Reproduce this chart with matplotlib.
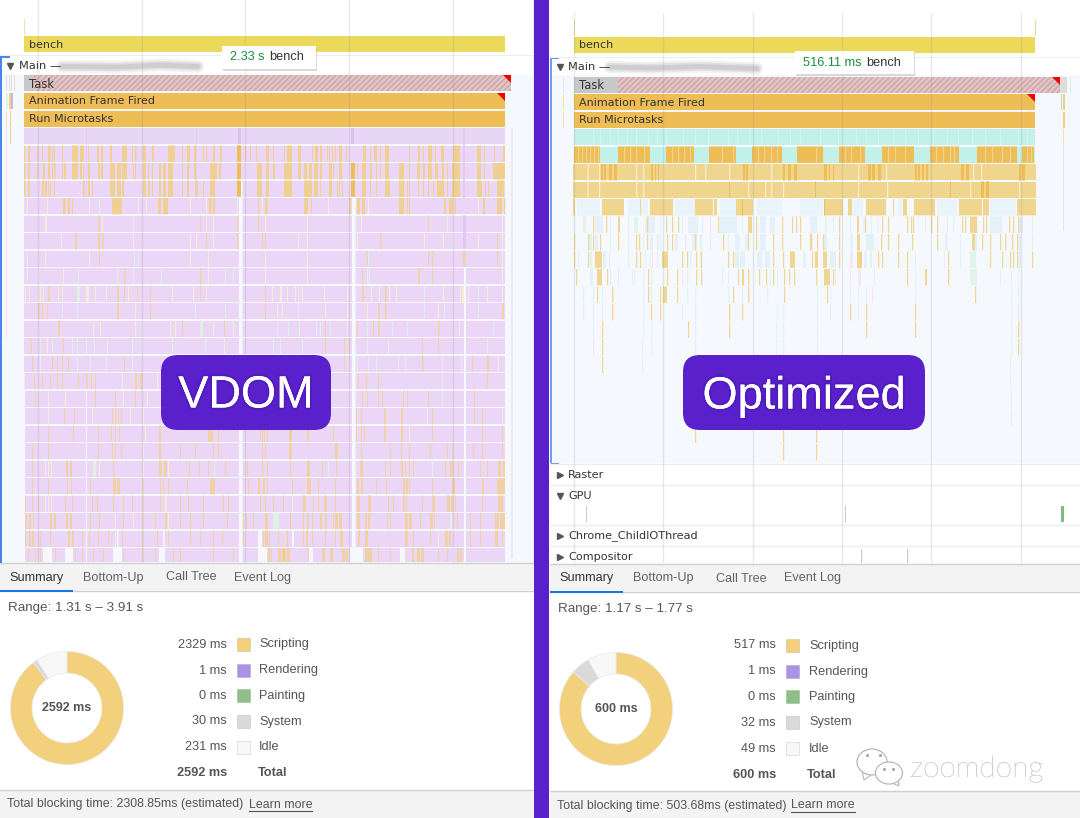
import matplotlib
matplotlib.use("Agg")
import matplotlib.pyplot as plt
from matplotlib.patches import FancyBboxPatch, Rectangle, Ellipse, Polygon
import matplotlib.patheffects as pe

plt.rcParams['font.family'] = ['Liberation Sans', 'DejaVu Sans']
plt.rcParams['hatch.linewidth'] = 1.0

# ---------- summary data ----------
CATEGORIES = ['Scripting', 'Rendering', 'Painting', 'System', 'Idle']
LEFT_VALUES = [2329, 1, 0, 30, 231]
RIGHT_VALUES = [517, 1, 0, 32, 49]
LEFT_TOTAL = 2592
RIGHT_TOTAL = 600
CAT_COLORS = ['#f2d07c', '#ab92e6', '#8cc084', '#dadada', '#f8f8f8']
TABS = ['Summary', 'Bottom-Up', 'Call Tree', 'Event Log']
TAB_X = [9, 83, 166, 234]

# ---------- flame chart data: (start, duration) or start only ----------
LEFT_ORANGE = [
 [],
 [(24,1.2),(28,2),(37,1),(42,1),(48,2.5),(52,1),(54,1),(62,1),(72,6),(80,4),(88,1),(97,2),(101,2),(110,2),(122,5),(132,1),(135,1.5),(143,3),(152,1),(153,1),(168,7),(182,1),(187,3),(194,2),(203,1),(206,1),(213,2),(220,2),(245,1),(250,1),(256,1),(266,3),(273,1),(284,1),(287,5),(298,3),(312,1),(315,3),(320,2),(327,1),(329,1),(332,1),(335,1),(339,3),(346,1),(363,3),(370,1),(374,3),(380,1),(385,4),(409,1),(418,2),(423,1),(428,4),(435,1),(441,3),(453,7),(477,4),(484,1),(494,1),(503,2)],
 [(24,1.5),(28,2),(37,1),(43,2),(48,2),(52,1),(54,1.5),(62,1),(64,2),(72,6),(80,2),(83,1),(88,2),(98,2),(101,2),(110,5),(117,4),(122,5),(133,1),(135,1),(143,3),(148,1),(152,1),(159,2),(163,3),(168,5),(182,1),(187,2),(194,2),(210,7),(219,2),(257,5),(266,3),(273,2),(284,8),(298,3),(304,3),(309,3),(314,4),(320,2),(329,3),(333,1),(339,3),(357,1),(362,4),(370,2),(376,1),(380,1),(385,4),(399,5),(409,1),(417,3),(423,2),(428,4),(435,3),(442,2),(447,1),(452,8),(477,4),(484,1),(493,12)],
 [(24,1.5),(28,2),(42,2),(45,2),(48,1),(50,1),(54,1),(83,2),(88,2),(92,1),(110,5),(117,4),(122,1),(123,1),(143,3),(148,2),(152,1),(159,2),(163,3),(168,5),(182,1),(187,2),(195,3),(203,1),(210,5),(257,5),(266,3),(284,8),(304,8),(314,4),(320,1),(329,3),(337,1),(339,1),(342,1),(362,4),(370,1),(376,1),(385,5),(399,5),(407,1),(409,1),(418,1),(423,1),(428,1),(433,1),(437,7),(447,1),(452,8),(477,5),(485,1),(488,1),(497,7)],
 [(63,2.5),(68,2),(72,1),(112,10),(158,3),(163,5),(209,2.5),(213,2),(258,1),(265,2.5),(304,4),(311,1),(349,2),(357,3),(362,3),(399,5),(407,1),(409,1),(444,2),(449,4),(455,1),(483,2),(497,5),(504,1)],
 [(98,1.5),(237,1.5),(258,1),(428,1),(200,1)],
 [(75,2),(98,2),(102,1.5),(206,1),(237,1.5),(262,1),(265,1),(380,1.5),(497,1)],
 [(99,1),(367,1),(428,1),(432,1),(463,2.5),(497,1)],
 [(124,1.5),(200,1.5),(362,1),(418,2),(432,1)],
 [(48,1.5),(117,2),(124,1),(137,1),(150,1),(200,1),(265,1),(362,2),(385,1.5)],
 [(38,1.5),(42,1),(47,1),(117,2),(150,1),(265,1),(378,1.5),(385,1.5),(502,2)],
 [(58,2),(182,1),(224,1),(325,1),(357,1),(373,1),(378,1.5),(438,1.5)],
 [(31,1),(63,1),(325,1),(344,1),(349,1),(422,1),(438,1)],
 [(32,1),(52,1),(57,1),(62,1),(68,1),(124,1),(344,1),(422,1.5),(472,1),(487,2)],
 [(34,1),(42,1),(50,1),(57,1),(62,1),(78,1),(86,1.5),(91,1),(95,1),(135,2),(140,2),(358,1),(366,1),(378,1),(487,1)],
 [(35,1),(95,1),(115,1),(135,1),(362,1),(367,1),(378,1),(382,1),(403,1),(407,1),(428,1),(474,1)],
 [(64,1),(74,1),(112,1),(115,1),(118,1),(121,1),(356,1),(361,1),(384,2),(401,2),(432,1),(474,1),(482,1)],
 [(48,1),(73,1),(98,1),(111,1),(115,1),(119,1),(159,2),(208,5),(218,1),(262,1),(267,1),(290,1),(260,1),(264,1),(289,3),(307,2),(333,1),(356,1),(361,1),(364,1),(384,2),(401,2),(432,1),(482,1),(502,1)],
 [(32,1),(48,1),(98,1),(112,1),(115,1),(121,1),(159,2),(180,1),(195,1),(213,1),(218,1),(262,1),(265,1),(289,3),(335,3),(361,1),(390,1),(401,1),(409,1),(430,1),(447,1),(452,1),(473,1),(482,1),(502,1)],
 [(32,1),(66,2),(70,2),(113,1),(159,3),(164,3),(189,1),(199,1),(208,1),(225,1),(247,1),(262,1),(267,1),(290,1),(307,3),(322,1),(336,1),(360,3),(385,1),(390,1),(401,2),(405,1),(409,1),(413,1),(445,1),(450,3),(458,1),(480,1),(487,1),(498,3),(503,2)],
 [(32,1),(48,1),(67,1),(71,1),(90,1),(113,3),(117,3),(143,1),(160,1),(163,1),(168,1),(187,1),(210,5),(248,1),(267,1),(292,1),(258,2),(263,2),(307,4),(318,1),(335,1),(357,2),(361,2),(376,1),(386,1),(403,2),(406,2),(409,1),(432,1),(452,3),(482,2),(497,8)],
 [(25,1),(32,1),(38,1),(65,1),(72,1),(92,1),(97,1),(113,1),(123,1),(132,1),(143,1),(160,1),(180,1),(188,1),(203,1),(223,1),(228,1),(260,1),(265,1),(273,1),(283,1),(303,3),(313,1),(318,1),(324,3),(335,1),(357,3),(368,3),(388,1),(393,1),(403,2),(406,1),(422,1),(432,3),(447,3),(451,2),(455,1),(482,1),(498,5)],
 [(25,2),(29,2),(33,1),(50,2),(54,2),(66,2),(70,2),(90,1),(99,1),(123,1),(143,1),(155,1),(165,2),(180,1),(190,1),(203,1),(227,1),(243,1),(246,1),(290,1),(303,1),(308,1),(333,1),(253,1),(265,3),(290,1),(307,1),(312,1),(320,2),(325,2),(335,3),(339,3),(357,3),(365,2),(368,2),(387,1),(390,1),(405,3),(409,3),(420,1),(430,3),(434,1),(457,1),(470,1),(480,1),(495,4),(500,5)],
 [(25,1),(29,2),(32,2),(40,1),(50,1),(68,2),(72,2),(82,1),(89,1),(98,1),(108,1),(122,1),(143,1),(157,1),(168,1),(190,1),(200,1),(213,1),(222,1),(243,1),(263,1),(287,1),(307,1),(265,3),(269,1),(278,1),(287,1),(303,1),(306,1),(312,1),(325,1),(335,1),(340,3),(358,2),(365,3),(405,3),(413,1),(430,1),(445,3),(449,2),(470,1),(480,1),(495,3),(502,1)],
 [(28,1),(35,1),(40,1),(55,1),(75,1),(82,1),(93,1),(103,1),(123,1),(143,1),(155,1),(173,1),(180,1),(213,1),(233,1),(283,3),(287,3),(308,1),(268,2),(271,1),(278,3),(282,3),(322,3),(330,3),(342,3),(346,2),(365,7),(378,1),(390,1),(412,2),(417,3),(421,3),(438,1),(447,1),(457,2),(460,2)],
]
LEFT_CREAM = [
 [],[],[],[],
 [(27,1),(47,1),(89,1),(138,1),(146,1),(190,1),(206,1),(262,1),(328,1),(355,1),(368,1),(478,1),(505,1)],
 [(45,2),(102,1),(206,1),(213,1),(265,1),(307,1),(361,1),(428,1),(502,1)],
 [(61,1),(133,1),(190,1),(196,1),(213,1),(242,1),(298,1),(307,1),(357,1),(424,1),(443,1),(478,1),(502,1)],
 [(45,1),(89,1),(190,1),(208,1),(265,1),(307,1),(502,1)],
 [(63,1),(208,1),(265,1),(307,1),(502,1)],
 [(25,1),(29,1),(38,1),(40,1),(43,1),(58,1),(62,1),(86,3),(95,1),(106,1),(128,1),(172,1),(193,1),(206,1),(272,1),(280,2),(287,1),(295,1),(302,1),(324,1),(347,1),(371,1),(379,1),(389,1),(396,1),(443,1),(460,1),(462,2),(468,1),(487,1),(502,1)],
 [(135,1),(277,1),(282,1),(325,1),(347,1),(367,1),(438,1)],
 [(93,1),(100,1),(135,1),(170,1),(175,1),(213,1),(233,1)],
 [(47,1),(224,1)],
 [(498,1)],
 [(24,1),(122,1),(135,1),(157,1)],
 [(48,1),(65,1),(123,1),(147,1)],
 [(92,1),(130,1),(143,1)],
 [(145,1),(409,1)],
 [(143,1)],
 [(45,1),(48,1),(51,1),(93,1),(99,1),(143,1),(168,1)],
 [(143,1)],
 [(45,1),(48,1),(51,1),(123,1),(165,2),(292,1),(455,1)],
 [(115,1),(133,1),(155,1),(168,1)],
 [(115,1),(168,1),(438,1)],
 [],
]
LEFT_MINT = [
 [],[],[],[],
 [(99,1),(237,1)],
 [(133,1),(242,1),(265,1),(447,1)],
 [(453,1)],
 [(27,1),(134,1),(138,1),(368,1)],
 [(27,1),(38,1),(78,1),(117,1),(133,1),(161,1),(225,1),(233,1),(367,1),(369,1)],
 [(77,3),(298,1),(424,1),(478,1)],
 [(62,1),(77,1),(195,1),(225,1),(298,1),(424,1),(444,1),(478,1)],
 [(142,1),(200,3),(277,1),(288,1),(299,1),(316,1),(320,1),(330,1),(347,1),(367,1),(392,1),(407,1),(459,1),(493,1)],
 [(40,1),(52,1),(72,1),(77,1),(86,1),(94,1),(107,1),(132,1),(142,1),(172,1),(205,1),(273,1),(280,1),(302,1),(367,1),(388,1),(487,1)],
 [(40,1),(77,1),(90,1),(106,1),(132,1),(357,1),(368,1),(376,1),(398,1),(405,1),(442,1),(461,1)],
 [(442,1)],
 [(442,1)],
 [(48,1),(427,1),(502,1)],
 [],
 [],
 [(93,3),(143,1),(214,1),(328,1),(432,1)],
 [],
 [],
 [(273,5),(275,4),(450,2)],
 [(108,1)],
 [],
]
LEFT_GAP_A = [(239,3.5)]              # row 3 onward
LEFT_GAP_B = [(352,3.5)]              # row 4 onward
LEFT_GAP_C = [(464,2)]                # row 8 onward
LEFT_GAP_D = [(86,1)]                 # row 15 onward
LEFT_GAP_23 = [(117,1.5),(163,1.5),(258,4),(292,2)]
LEFT_GAP_24 = [(43,9),(65,8),(113,9),(159,6),(258,9),(309,4),(350,13),(400,5),(453,1)]
LEFT_DARK = [(237,4,1),(237,4,2),(237,4,3),(351,4,2),(351,4,3)]  # start, duration, row

RIGHT_SEG_ROW1 = [(574,26),(618,32),(666,28),(709,27),(752,30),(797,26),(839,26),(882,32),(930,29),(977,40),(1022,12)]
RIGHT_SEG_TICKS = [578,582,586,590,594,598,624,630,636,644,672,678,684,690,722,733,758,764,771,777,816,845,851,860,888,895,905,936,943,950,954,985,992,1002,1010,1027,1031]
RIGHT_ROW0_TICKS = [593,600,610,618,627,636,648,657,666,683,695,708,728,737,749,761,778,790,800,820,838,856,866,878,893,905,918,933,947,958,972,985,1000,1018,1027]
RIGHT_R2_DARK = [(601,2),(604,2),(609,3),(614,3),(651,2),(655,1),(658,1),(743,2),(746,2),(783,2),(788,3),(794,3),(824,3),(829,1),(833,1),(868,3),(872,3),(878,3),(915,2),(918,2),(922,2),(926,2),(961,3),(966,3),(1019,2),(1022,3)]
RIGHT_R2_SEP = [587.5,599,636,643,695,705,729,771,858,886,973,981]
RIGHT_R3_DARK = [(981,3),(986,3),(815,1),(950,1),(1019,1),(729,1)]
RIGHT_R3_SEP = [587.5,599,636,643,748,765,771,783,858,887,970,1019]
RIGHT_R4_CHUNKS = [(602,22),(650,20),(695,18),(736,6),(743,10),(824,19),(848,4),(866,20),(903,4),(914,21),(959,23),(983,6),(1017,19),(573,2),(640,1),(670,3),(714,3),(877,1),(893,1)]
RIGHT_R4_BLUE = [(577,3),(580,7),(587,13),(628,20),(675,20),(720,16),(757,25),(800,10),(810,13),(853,10),(898,4),(937,20),(990,26)]
RIGHT_R4_DARK = [(742,1),(824,1)]

RIGHT_ORANGE = {
 5:[593,606,(618,2),647,666,672,678,718,(748,4),756,782,792,796,800,839,(857,2),865,882,888,907,911,913,931,937,962,965,(970,7),983,986,1009,1013,1018],
 6:[574,588,593,600,618,636,639,647,667,672,695,723,748,756,773,782,800,(810,2),817,823,839,(857,3),881,888,898,912,937,982,990,1000,1005,1012,1017,(972,3)],
 7:[574,588,(595,7),636,640,(662,6),682,687,696,701,728,733,773,783,(790,5),812,(815,3),(823,4),839,(857,5),878,882,898,907,948,990,1002,1010,1013,1017,1032],
 8:[576,(597,5),607,648,667,677,696,701,738,(742,2),748,759,766,773,784,789,794,816,(824,6),833,907,(925,2),948],
 9:[597,612,648,660,(663,4),677,733,748,784,827,975],
 10:[612,651,660,729,742,850,866,915],
 11:[602,688,729,866,915,1018],
 12:[602,1018],
 13:[602],
 14:[],15:[],16:[],
 17:[695,783,816],
 18:[783,816],
}
RIGHT_BLUE = {
 5:[574,(595,8),610,628,(645,10),660,682,(688,9),702,(720,17),(760,6),(770,5),(810,7),850,(863,2),877,(947,1),953,(990,12),(1018,5)],
 6:[(595,3),610,628,643,(650,3),660,(675,3),(692,5),710,728,(735,5),(760,6),(810,3),(824,3),(850,3),(868,3),(945,3),960,975,(1018,3)],
 7:[578,(603,3),628,645,650,657,690,(740,5),(757,5),(765,5),(803,3),(830,6),(850,3),(864,3),(915,1),(944,1),960,(1018,3)],
 8:[(590,3),610,634,643,651,687,722,(728,1),(770,1),(777,1),(835,1),(874,1),915,971,(1000,1),(1011,1),(1018,1)],
 9:[593,602,643,687,695,728,742,767,817,830,850,858,915,1011,1018],
 10:[583,593,602,643,682,695,777,783,817,830,858,1011,1018],
 11:[593,643,651,695,776,783,817,1011],
 12:[642,651,695,776,783,817,1011],
 13:[642,1010],
 14:[1010],15:[],16:[],17:[],18:[],
}
RIGHT_MINT = {
 5:[(583,3),(634,4),(697,1),742,(825,2),833,871,925,(975,2),(1032,1)],
 6:[(589,3),(610,1),(657,2),(700,2),(745,3),(866,2),(871,3),(975,2),(1032,1)],
 7:[(590,2),(700,2),(735,4),(830,3),(870,2),(970,6)],
 8:[(632,1),(970,5),(975,2)],
 9:[583,651,(866,1)],
 10:[],11:[],12:[],13:[],14:[],15:[],16:[],17:[],18:[],
}
RIGHT_PINK = {5:[710],6:[685],7:[652,(609,1),(850,2),(858,4)],8:[682,(850,1),(858,3),(618,1)],9:[872],10:[],11:[],12:[593],13:[],14:[],15:[1011],16:[1011],17:[],18:[]}

GPU_STRIPES = [(586,1),(845,1),(1061,3)]
COMP_STRIPES = [861,907]
LEFT_GRID = [38,142,245,349,453]
RIGHT_GRID = [574,663,753,842,931,1021]

# ---------- canvas ----------
fig = plt.figure(figsize=(10.8, 8.18), dpi=100, facecolor='white')
ax = fig.add_axes([0, 0, 1, 1])
ax.set_xlim(0, 1080); ax.set_ylim(818, 0); ax.axis('off')

BG = '#f5f9fe'
LILAC = '#ecd6f7'
ORANGE = '#f1cf80'
STRONG = '#eebd55'
CREAM = '#f6ecd8'
MINT = '#dff0e6'
BLUE = '#e4f0fa'
TEAL = '#c2f1ea'
LORANGE = '#f0d58f'

def rect(x, y, w, h, color, z=2, **kw):
    ax.add_patch(Rectangle((x, y), w, h, facecolor=color, edgecolor='none', zorder=z, **kw))

def stripes(items, y, h, color, z=3, alpha=None):
    for it in items:
        x, w = it if isinstance(it, tuple) else (it, 1.2)
        ax.bar(x, h, width=w, bottom=y, align='edge', color=color, linewidth=0, zorder=z, alpha=alpha, snap=False)

def label(x, y, s, size=8, color='#333333', **kw):
    ax.text(x, y, s, fontsize=size, color=color, va='center', ha=kw.pop('ha', 'left'), zorder=kw.pop('zorder', 9), **kw)

DT = ['DejaVu Sans']

# ----- left panel -----
rect(2, 73, 532, 490, BG, 1)
rect(0, 56, 2, 507, '#4a86e8', 6)
rect(2, 56, 8, 1.5, '#4a86e8', 6)
rect(24, 19, 1, 16, '#f6dfa8')
rect(24, 36, 481, 16, '#ecd95a')
label(29, 44.5, 'bench', family=DT)

rect(24, 75, 11, 16, '#c8c8c8')
ax.add_patch(Rectangle((34, 75), 477, 16, facecolor='#dcc8c8', edgecolor='#d9a0a0', hatch='//////', linewidth=0, zorder=2))
rect(24, 93, 481, 16, STRONG)
rect(24, 111, 481, 16, STRONG)
label(29, 84, 'Task', size=8.3, family=DT)
label(29, 101.5, 'Animation Frame Fired', family=DT)
label(29, 119, 'Run Microtasks', family=DT)
ax.add_patch(Polygon([[503, 75], [511, 75], [511, 83]], facecolor='#f00000', zorder=5))
ax.add_patch(Polygon([[497, 93], [505, 93], [505, 101]], facecolor='#f00000', zorder=5))
for x, c in zip([6, 9, 11, 14], ['#ddd'] * 4):
    rect(x, 75, 0.8, 16, c)
for x, c in zip([6, 9, 11], [MINT, ORANGE, '#c8b8ea']):
    rect(x, 93, 1.5, 16, c)
rect(6, 111, 1, 16, '#f6dfa8'); rect(10, 111, 1, 16, ORANGE); rect(10, 128, 1, 16, ORANGE)
rect(6, 128, 0.8, 210, '#f1e0f8')
rect(511, 128, 2, 430, '#f0e6f8', 1.5)
rect(533, 0, 1, 563, '#e8e8f0', 1.5)

ROW_Y0 = 128
PITCH = 17.5
for k in range(25):
    y = ROW_Y0 + PITCH * k
    h = 16.4 if k < 24 else 562 - y
    rect(24 if k < 14 else 25, y, 481 if k < 14 else 480, h, LILAC if k else '#e8d6f6')
    stripes(LEFT_MINT[k], y, h, MINT)
    stripes(LEFT_CREAM[k], y, h, CREAM)
    stripes(LEFT_ORANGE[k], y, h, ORANGE, alpha=0.85 if k < 5 else 0.7)
    if k >= 3:
        stripes(LEFT_GAP_A, y, h, BG, 4)
    if k >= 4:
        stripes(LEFT_GAP_B, y, h, BG, 4)
    if k >= 8:
        stripes(LEFT_GAP_C, y, h, BG, 4)
    if k >= 15:
        stripes(LEFT_GAP_D, y, h, BG, 4)
    if k == 23:
        stripes(LEFT_GAP_23, y, h, BG, 4)
    if k == 24:
        stripes(LEFT_GAP_24, y, h, BG, 4)
for x, w, k in LEFT_DARK:
    stripes([(x, w)], ROW_Y0 + PITCH * k, 16, STRONG, 4)
stripes([(238, 3), (351, 3)], ROW_Y0, 16, '#dcc0ee', 4)
stripes([(238, 3)], ROW_Y0 + PITCH, 16, STRONG, 4)
stripes([(463, 3)], ROW_Y0 + PITCH * 5, 33, '#e4c4f0', 4)
stripes([(86, 0.8), (196, 0.8), (463, 2)], ROW_Y0, 70, '#e6c4ee', 3, alpha=0.7)

for x in LEFT_GRID:
    ax.plot([x, x], [0, 562], color='#888888', alpha=0.18, lw=1, zorder=7)

rect(0, 55, 533, 0.8, '#eeeeee', 2)
rect(3, 56, 530, 17.5, 'white', 2)
ax.plot([10], [65.5], marker='v', ms=4.5, color='#555555', zorder=9, ls='none')
label(19, 66, 'Main —', size=8.2, family=DT)
for lw, a in [(9, 0.12), (6, 0.2), (3.5, 0.25)]:
    ax.plot([62, 120, 160, 198], [66.5, 67, 65, 66.5], color='#999999', lw=lw, alpha=a, zorder=8, solid_capstyle='round')

# ----- divider -----
rect(534, 0, 15, 818, '#5a20cb', 10)

# ----- right panel -----
rect(550, 75, 530, 388, BG, 1)
rect(549.5, 58, 2, 405, '#6b9ff0', 6)
rect(551, 57.5, 8, 1.5, '#6b9ff0', 6)
rect(551, 462.5, 8, 1.5, '#6b9ff0', 6)
rect(574, 20, 1, 16, '#f0d58f'); rect(1035, 20, 1, 16, '#f0d58f')
rect(574, 37, 461, 16, '#ecd95a')
label(579, 45.5, 'bench', family=DT)
rect(574, 77, 45, 16, '#c8c8c8')
ax.add_patch(Rectangle((618, 77), 442, 16, facecolor='#dcc8c8', edgecolor='#d9a0a0', hatch='//////', linewidth=0, zorder=2))
rect(1060, 77, 7, 16, '#dddddd')
rect(1070, 77, 1, 16, '#e5e5e5'); rect(563, 77, 1, 16, '#e5e5e5')
rect(574, 94, 461, 16, STRONG)
rect(574, 112, 461, 16, STRONG)
label(579, 85.5, 'Task', size=8.3, family=DT)
label(579, 102.5, 'Animation Frame Fired', family=DT)
label(579, 120, 'Run Microtasks', family=DT)
ax.add_patch(Polygon([[1052, 77], [1060, 77], [1060, 85]], facecolor='#f00000', zorder=5))
ax.add_patch(Polygon([[1027, 94], [1035, 94], [1035, 102]], facecolor='#f00000', zorder=5))
rect(563, 94, 1, 16, '#f6dfa8'); rect(563, 112, 1, 16, '#f6dfa8')
rect(1061, 94, 1, 16, '#b7dcc0'); rect(1063, 94, 1.5, 16, ORANGE)
rect(1063, 112, 1.5, 16, ORANGE); rect(1063, 129, 1, 16, '#f6dfa8')
rect(1063, 146, 0.8, 85, '#dde8f0')

RY = 129
rect(574, RY, 461, 16.4, TEAL)
stripes(RIGHT_ROW0_TICKS, RY, 16.4, '#d8f6f1', 3, alpha=0.9)
y1 = RY + 17.5
rect(574, y1, 461, 16.4, TEAL)
stripes(RIGHT_SEG_ROW1, y1, 16.4, STRONG)
stripes(RIGHT_SEG_TICKS, y1, 16.4, LORANGE, 4)
y2 = RY + 35
rect(573, y2, 463, 16.4, LORANGE)
stripes(RIGHT_R2_DARK, y2, 16.4, '#eebd55')
stripes(RIGHT_R2_SEP, y2, 16.4, '#f8efd2', 4)
y3 = RY + 52.5
rect(573, y3, 463, 16.4, LORANGE)
stripes(RIGHT_R3_DARK, y3, 16.4, '#eebd55')
stripes(RIGHT_R3_SEP, y3, 16.4, '#f8efd2', 4)
y4 = RY + 70
stripes(RIGHT_R4_BLUE, y4, 16.4, '#e8f4fa')
stripes(RIGHT_R4_CHUNKS, y4, 16.4, LORANGE, 4)
stripes(RIGHT_R4_DARK, y4, 16.4, STRONG, 5)

for k in RIGHT_ORANGE:
    y = RY + 87.5 + PITCH * (k - 5)
    stripes(RIGHT_BLUE[k], y, 16.4, BLUE, 3)
    stripes(RIGHT_MINT[k], y, 16.4, '#dff5ec', 3)
    stripes(RIGHT_PINK[k], y, 16.4, '#f8e4f3', 3)
    stripes(RIGHT_ORANGE[k], y, 16.4, ORANGE, 4, alpha=0.85)

for x in RIGHT_GRID:
    ax.plot([x, x], [13, 562], color='#888888', alpha=0.18, lw=1, zorder=7)

rect(551, 57, 529, 0.8, '#eeeeee', 2)
rect(552, 58, 528, 17, 'white', 2)
ax.plot([560], [67], marker='v', ms=4.5, color='#555555', zorder=9, ls='none')
label(568, 67, 'Main —', size=8.2, family=DT)
for lw, a in [(9, 0.12), (6, 0.2), (3.5, 0.25)]:
    ax.plot([610, 650, 700, 757], [67, 68, 66.5, 68.5], color='#999999', lw=lw, alpha=a, zorder=8, solid_capstyle='round')

# lower tracks (right)
for yy in [464, 485, 525, 546]:
    ax.plot([550, 1080], [yy, yy], color='#eeeeee', lw=1, zorder=2)
for yy, tri, s in [(474.5, '>', 'Raster'), (496, 'v', 'GPU'), (535.5, '>', 'Chrome_ChildIOThread'), (557, '>', 'Compositor')]:
    ax.plot([560], [yy], marker=tri, ms=4.5, color='#555555', zorder=9, ls='none')
    label(568, yy, s, size=8.1, family=DT)
stripes(GPU_STRIPES[:2], 506, 16, '#b5dcb5', 6)
stripes(GPU_STRIPES[2:], 506, 16, '#7fbc7f', 6)
stripes(COMP_STRIPES, 549, 14, '#cccccc', 6)

# tooltips
for x, y, w, h in [(222, 46, 94, 23), (795, 51, 119, 23)]:
    ax.add_patch(Rectangle((x + 1, y + 1.5), w, h, facecolor='#999999', alpha=0.35, edgecolor='none', zorder=10))
    ax.add_patch(Rectangle((x, y), w, h, facecolor='white', edgecolor='none', zorder=11))
label(230, 57.5, '2.33 s', size=9.2, color='#1e8e3e', zorder=12)
label(269, 57.5, 'bench', size=9.2, color='#333333', zorder=12)
label(803, 62.5, '516.11 ms', size=9.2, color='#1e8e3e', zorder=12)
label(866, 62.5, 'bench', size=9.2, color='#333333', zorder=12)

# badges
for x0, x1, cx, cy, s in [(161, 331, 246, 396, 'VDOM'), (683, 925, 804, 397, 'Optimized')]:
    ax.add_patch(FancyBboxPatch((x0 + 17, 355 + 17), x1 - x0 - 34, 41,
                                boxstyle='round,pad=17,rounding_size=17',
                                facecolor='#5a20cb', edgecolor='none', zorder=13))
    ax.text(cx, cy, s, fontsize=32.5, color='white', ha='center', va='center', zorder=14,
            path_effects=[pe.withStroke(linewidth=3, foreground='#4a1ab0', alpha=0.5), pe.Normal()])

# ----- summary panels -----
def summary(x0, x1, dy, tabs_dx, val_x, sw_x, lab_x, total_lx, cx, values, total, rng, tbt, learn_x, learn_end, foot_x):
    rect(x0, 563 + dy, x1 - x0, 27, '#f3f3f4', 2)
    ax.plot([x0, x1], [563 + dy, 563 + dy], color='#d0d0d0', lw=1, zorder=3)
    ax.plot([x0, x1], [591 + dy, 591 + dy], color='#d0d0d0', lw=1, zorder=3)
    rect(x0, 590 + dy, 73, 1.8, '#1a73e8', 4)
    for i, (t, tx) in enumerate(zip(TABS, TAB_X)):
        label(tx + tabs_dx, 577.5 + dy, t, size=9.1, color='#333333' if i == 0 else '#5f6368')
    label(8 + tabs_dx, 608 + dy, rng, size=9.6, color='#555555')
    rows = [644.5, 670.5, 696, 721.5, 747.5]
    for y, v, c, cat in zip(rows, values, CAT_COLORS, CATEGORIES):
        label(val_x, y + dy, f'{v} ms', size=9.2, color='#555555', ha='right')
        ax.add_patch(Rectangle((sw_x, y + dy - 7), 13, 13, facecolor=c, edgecolor='#00000018', linewidth=0.8, zorder=5))
        label(lab_x, y + dy, cat, size=9.2, color='#555555')
    label(val_x, 773.5 + dy, f'{total} ms', size=9.2, color='#555555', ha='right', fontweight='bold')
    label(total_lx, 773.5 + dy, 'Total', size=9.2, color='#555555', fontweight='bold')
    rect(x0, 790 + dy, x1 - x0, 28, '#f3f3f4', 2)
    ax.plot([x0, x1], [790 + dy, 790 + dy], color='#d0d0d0', lw=1, zorder=3)
    label(foot_x, 804.5 + dy, tbt, size=8.9, color='#555555')
    label(learn_x, 804.5 + dy, 'Learn more', size=8.9, color='#555555')
    ax.plot([learn_x, learn_end], [810.5 + dy, 810.5 + dy], color='#555555', lw=0.8, zorder=9)
    # donut
    R = 56.5
    dax = fig.add_axes([(cx - R - 1) / 1080, 1 - (708 + dy + R + 1) / 818, (2 * R + 2) / 1080, (2 * R + 2) / 818])
    dax.pie(values, colors=CAT_COLORS, startangle=90, counterclock=False, radius=R / (R + 1),
            wedgeprops=dict(width=21.5 / (R + 1), linewidth=0.5, edgecolor='#e8e8e8'))
    dax.set_xlim(-1, 1); dax.set_ylim(-1, 1)
    dax.text(0, 0, f'{total} ms', ha='center', va='center', fontsize=9, fontweight='bold', color='#555555')

summary(0, 534, 0, 0, 227, 237, 259, 258, 67, LEFT_VALUES, LEFT_TOTAL,
        'Range: 1.31 s – 3.91 s', 'Total blocking time: 2308.85ms (estimated)', 249, 312, 7)
summary(550, 1080, 1, 550, 776, 786, 809, 807, 616, RIGHT_VALUES, RIGHT_TOTAL,
        'Range: 1.17 s – 1.77 s', 'Total blocking time: 503.68ms (estimated)', 791, 855, 557)

# watermark
for (x, y, rx, ry) in [(872, 762, 15, 13), (889, 773, 13.5, 11)]:
    ax.add_patch(Ellipse((x, y), 2 * rx, 2 * ry, facecolor='white', edgecolor='#b8b8b8', lw=0.9, zorder=15))
ax.add_patch(Polygon([[862, 771], [864, 780], [871, 775]], facecolor='white', edgecolor='#b8b8b8', lw=0.8, zorder=14))
ax.add_patch(Polygon([[892, 783], [899, 786], [898, 779]], facecolor='white', edgecolor='#b8b8b8', lw=0.8, zorder=14))
for x, y in [(867, 755), (880, 755), (884, 769), (893, 769)]:
    ax.plot([x], [y], marker='o', ms=1.3, color='#aaaaaa', zorder=16, ls='none')
ax.text(910, 769, 'zoomdong', fontsize=21.5, color='#b4b4b4', family='Lato', va='center', ha='left', zorder=16,
        fontweight='light', path_effects=[pe.withStroke(linewidth=1.0, foreground='white'), pe.Normal()])

fig.savefig('out.png', dpi=100, facecolor='white')
